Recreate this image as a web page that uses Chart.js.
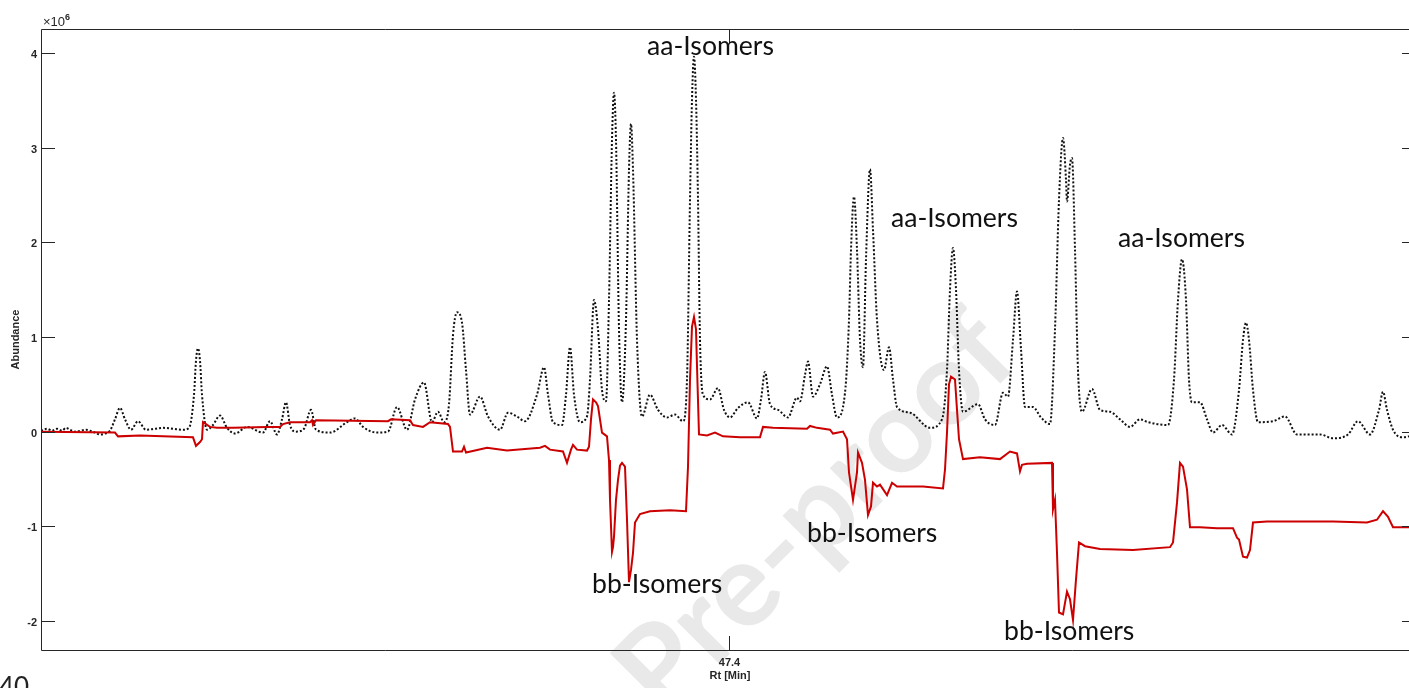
<!DOCTYPE html>
<html>
<head>
<meta charset="utf-8">
<title>Rt chromatogram</title>
<script src="https://cdn.jsdelivr.net/npm/chart.js@4.4.1/dist/chart.umd.min.js"></script>
<style>
  html, body { margin: 0; padding: 0; background: #fff; overflow: hidden; }
  #wrap { position: relative; width: 1424px; height: 688px; }
</style>
</head>
<body>
<div id="wrap"><canvas id="c" width="1424" height="688"></canvas></div>
<script>
// Total ion trace (dotted black): retention time [min] and abundance [x10^6]
const rtTotal = [40.52,40.58,40.63,40.68,40.73,40.77,40.81,40.86,40.97,41.01,41.06,41.11,41.16,41.21,41.26,41.31,41.36,41.42,41.49,41.57,41.66,41.74,41.84,41.94,42.00,42.05,42.07,42.09,42.11,42.13,42.18,42.24,42.31,42.38,42.46,42.58,42.74,42.81,42.88,42.93,42.97,43.01,43.07,43.15,43.22,43.27,43.41,43.58,43.66,43.74,43.88,43.99,44.08,44.18,44.26,44.35,44.43,44.49,44.55,44.60,44.64,44.68,44.73,44.77,44.81,44.91,44.99,45.11,45.19,45.28,45.36,45.48,45.55,45.59,45.64,45.73,45.77,45.81,45.85,45.91,45.98,46.01,46.05,46.09,46.13,46.17,46.20,46.23,46.25,46.27,46.30,46.33,46.37,46.40,46.42,46.44,46.48,46.53,46.61,46.69,46.78,46.86,46.94,46.98,47.01,47.03,47.05,47.07,47.09,47.11,47.14,47.21,47.29,47.35,47.41,47.49,47.59,47.68,47.72,47.76,47.81,47.89,47.99,48.08,48.11,48.16,48.19,48.24,48.31,48.38,48.43,48.48,48.56,48.60,48.62,48.65,48.68,48.71,48.74,48.77,48.81,48.84,48.88,48.95,49.00,49.04,49.08,49.21,49.41,49.53,49.58,49.61,49.64,49.67,49.70,49.74,49.89,49.96,50.06,50.14,50.19,50.24,50.28,50.32,50.36,50.44,50.52,50.61,50.66,50.70,50.74,50.77,50.78,50.81,50.83,50.86,50.89,50.93,51.03,51.11,51.21,51.31,51.41,51.51,51.59,51.79,51.85,51.89,51.93,51.97,52.00,52.03,52.11,52.18,52.24,52.33,52.43,52.50,52.54,52.57,52.60,52.64,52.69,52.84,52.96,53.08,53.31,53.44,53.59,53.69,53.81,53.90,53.94,53.98,54.04,54.13,54.20,54.27];
const abTotal = [0.01,0.03,0.01,0.03,0.01,0.04,0.02,0.00,0.02,0.01,-0.01,-0.03,-0.02,0.01,0.13,0.25,0.13,0.02,0.11,0.02,0.03,0.04,0.03,0.02,0.04,0.39,0.75,0.88,0.75,0.39,0.02,0.07,0.17,0.04,-0.02,0.05,-0.01,0.11,-0.03,0.13,0.31,0.07,0.00,0.03,0.23,0.02,-0.01,0.10,0.14,0.05,-0.01,0.00,0.26,0.02,0.34,0.52,0.10,0.21,0.10,0.29,1.02,1.26,1.15,0.65,0.18,0.37,0.16,0.02,0.20,0.16,0.11,0.39,0.68,0.39,0.10,0.07,0.39,0.89,0.39,0.10,0.16,0.55,1.39,1.08,0.44,0.32,1.39,3.08,3.58,3.08,1.08,0.31,1.18,2.77,3.25,2.77,0.97,0.16,0.39,0.23,0.15,0.18,0.11,0.55,2.45,3.51,3.96,3.51,2.45,0.97,0.39,0.34,0.46,0.23,0.15,0.25,0.31,0.14,0.34,0.63,0.29,0.23,0.15,0.36,0.32,0.60,0.74,0.37,0.50,0.69,0.39,0.15,0.41,1.18,1.92,2.48,1.92,0.97,0.68,1.82,2.77,2.13,1.18,0.65,0.89,0.55,0.26,0.20,0.04,0.13,0.65,1.50,1.94,1.50,0.65,0.21,0.29,0.13,0.07,0.41,0.37,0.97,1.48,0.87,0.26,0.26,0.15,0.08,1.08,2.45,3.10,2.66,2.43,2.82,2.89,1.92,0.65,0.21,0.45,0.23,0.21,0.13,0.05,0.13,0.10,0.07,0.55,1.39,1.82,1.39,0.55,0.31,0.31,0.13,-0.01,0.07,-0.03,0.44,0.97,1.15,0.97,0.44,0.10,0.11,0.16,-0.03,-0.03,-0.07,-0.03,0.11,-0.03,0.23,0.42,0.23,0.02,-0.06,-0.05,-0.03];

// Difference trace (solid red)
const rtDiff = [40.52,41.26,41.29,41.51,42.04,42.07,42.11,42.13,42.14,42.21,42.28,42.44,42.78,42.91,42.94,43.01,43.21,43.23,43.24,43.27,43.99,44.02,44.21,44.24,44.34,44.41,44.59,44.61,44.64,44.73,44.75,44.77,44.98,45.18,45.51,45.56,45.61,45.74,45.78,45.82,45.84,45.88,45.98,46.00,46.02,46.04,46.07,46.09,46.13,46.18,46.20,46.21,46.23,46.24,46.25,46.27,46.29,46.31,46.33,46.36,46.38,46.40,46.42,46.44,46.46,46.51,46.61,46.81,46.97,46.99,47.01,47.03,47.05,47.07,47.08,47.10,47.18,47.26,47.34,47.51,47.71,47.74,47.84,48.18,48.21,48.28,48.41,48.44,48.54,48.58,48.60,48.64,48.68,48.69,48.73,48.76,48.79,48.82,48.84,48.88,48.91,48.98,49.03,49.08,49.34,49.54,49.56,49.58,49.60,49.62,49.66,49.68,49.70,49.74,49.91,50.11,50.21,50.28,50.31,50.33,50.38,50.63,50.64,50.66,50.68,50.70,50.74,50.78,50.81,50.84,50.87,50.90,50.96,51.11,51.44,51.81,51.84,51.88,51.91,51.94,51.98,52.01,52.11,52.28,52.44,52.48,52.50,52.54,52.58,52.61,52.64,52.78,53.11,53.44,53.78,53.88,53.94,53.99,54.04,54.20,54.27];
const abDiff = [0.00,-0.01,-0.05,-0.04,-0.06,-0.15,-0.11,-0.08,0.10,0.05,0.04,0.04,0.05,0.05,0.08,0.10,0.10,0.12,0.07,0.12,0.11,0.13,0.12,0.07,0.05,0.10,0.08,0.05,-0.21,-0.21,-0.16,-0.22,-0.17,-0.20,-0.17,-0.15,-0.19,-0.21,-0.33,-0.19,-0.14,-0.19,-0.20,-0.16,0.13,0.34,0.31,0.27,-0.01,-0.05,-0.30,-0.72,-1.27,-1.22,-1.11,-0.72,-0.51,-0.36,-0.33,-0.37,-0.93,-1.59,-1.46,-1.28,-0.96,-0.87,-0.84,-0.83,-0.84,-0.37,0.55,1.11,1.21,1.08,0.69,-0.03,-0.04,-0.01,-0.05,-0.06,-0.06,0.05,0.04,0.03,0.06,0.04,0.02,-0.02,0.00,-0.08,-0.43,-0.72,-0.43,-0.22,-0.33,-0.51,-0.88,-0.79,-0.54,-0.58,-0.56,-0.67,-0.54,-0.58,-0.58,-0.60,-0.40,-0.01,0.50,0.58,0.55,0.23,-0.08,-0.29,-0.27,-0.29,-0.21,-0.23,-0.42,-0.35,-0.34,-0.33,-0.82,-0.72,-1.28,-1.91,-1.93,-1.69,-1.77,-1.99,-1.56,-1.17,-1.21,-1.24,-1.25,-1.22,-1.17,-0.75,-0.33,-0.37,-0.61,-1.01,-1.01,-1.02,-1.02,-1.12,-1.14,-1.32,-1.33,-1.25,-0.96,-0.95,-0.95,-0.95,-0.96,-0.93,-0.84,-0.90,-1.01,-1.01,-1.01];

// Axis ticks
const yTicks = [-2, -1, 0, 1, 2, 3, 4];
const xTicks = [47.4];
const xTickLabels = ['47.4'];

// Peak group annotations: text, left x [px], baseline y [px]
const noteText = ['aa-Isomers', 'aa-Isomers', 'aa-Isomers', 'bb-Isomers', 'bb-Isomers', 'bb-Isomers'];
const noteX = [647, 891, 1118, 592, 807, 1004];
const noteY = [55, 227, 247, 593, 542, 640];

const AXIS = '#262626';
const TICK_FONT = 'bold 11px "Liberation Sans", Arial, sans-serif';

const pts = (xs, ys) => xs.map((x, i) => ({ x: x, y: ys[i] }));

const watermark = {
  id: 'watermark',
  beforeDatasetsDraw(chart) {
    const ctx = chart.ctx;
    ctx.save();
    ctx.translate(816, 514);
    ctx.rotate(-Math.PI / 4);
    ctx.font = 'bold 118px Lato, "Open Sans", sans-serif';
    ctx.fillStyle = '#e9e9e9';
    ctx.textAlign = 'center';
    ctx.textBaseline = 'middle';
    ctx.fillText('Pre-proof', 0, 0);
    ctx.restore();
  }
};

const frame = {
  id: 'frame',
  afterDraw(chart) {
    const ctx = chart.ctx;
    const a = chart.chartArea;
    const xs = chart.scales.x, ys = chart.scales.y;
    ctx.save();
    ctx.strokeStyle = AXIS;
    ctx.lineWidth = 1;
    // box
    ctx.beginPath();
    ctx.moveTo(a.left + 0.5, a.top + 0.5);
    ctx.lineTo(a.right + 0.5, a.top + 0.5);
    ctx.lineTo(a.right + 0.5, a.bottom + 0.5);
    ctx.lineTo(a.left + 0.5, a.bottom + 0.5);
    ctx.closePath();
    ctx.stroke();
    // y ticks, inward on both sides
    ctx.fillStyle = AXIS;
    ctx.font = TICK_FONT;
    ctx.textAlign = 'right';
    ctx.textBaseline = 'middle';
    yTicks.forEach(v => {
      const y = Math.round(ys.getPixelForValue(v)) + 0.5;
      ctx.beginPath();
      ctx.moveTo(a.left, y); ctx.lineTo(a.left + 14, y);
      ctx.moveTo(a.right, y); ctx.lineTo(a.right - 14, y);
      ctx.stroke();
      ctx.fillText(String(v), a.left - 4, y + 1);
    });
    // x ticks, inward on top and bottom
    ctx.textAlign = 'center';
    xTicks.forEach((v, i) => {
      const x = Math.round(xs.getPixelForValue(v)) + 0.5;
      ctx.beginPath();
      ctx.moveTo(x, a.bottom); ctx.lineTo(x, a.bottom - 14);
      ctx.moveTo(x, a.top); ctx.lineTo(x, a.top + 14);
      ctx.stroke();
      ctx.fillText(xTickLabels[i], x, a.bottom + 13);
    });
    // axis titles
    ctx.fillText('Rt [Min]', xs.getPixelForValue(xTicks[0]) + 1, a.bottom + 26);
    ctx.save();
    ctx.translate(16, (a.top + a.bottom) / 2);
    ctx.rotate(-Math.PI / 2);
    ctx.fillText('Abundance', 0, 0);
    ctx.restore();
    // exponent label
    ctx.textAlign = 'left';
    ctx.textBaseline = 'alphabetic';
    ctx.font = '13px "Liberation Sans", Arial, sans-serif';
    ctx.fillText('\u00d710', a.left + 2, a.top - 3);
    const w = ctx.measureText('\u00d710').width;
    ctx.font = 'bold 9px "Liberation Sans", Arial, sans-serif';
    ctx.fillText('6', a.left + 2 + w, a.top - 9);
    // peak group annotations
    ctx.fillStyle = '#111';
    ctx.font = '25px Lato, "Open Sans", sans-serif';
    const k = 127 / ctx.measureText('aa-Isomers').width;
    ctx.font = (25 * k).toFixed(1) + 'px Lato, "Open Sans", sans-serif';
    noteText.forEach((t, i) => ctx.fillText(t, noteX[i], noteY[i]));
    // line number in the page margin
    ctx.fillStyle = '#222';
    ctx.font = '26px Lato, "Open Sans", sans-serif';
    ctx.fillText('40', -1, 696);
    ctx.restore();
  }
};

new Chart(document.getElementById('c'), {
  type: 'line',
  data: {
    datasets: [
      {
        label: 'Difference',
        data: pts(rtDiff, abDiff),
        borderColor: '#cc0000',
        borderWidth: 2,
        pointRadius: 0,
        tension: 0,
        fill: false
      },
      {
        label: 'Total',
        data: pts(rtTotal, abTotal),
        borderColor: '#111111',
        borderWidth: 2,
        borderDash: [2, 2],
        borderCapStyle: 'butt',
        pointRadius: 0,
        cubicInterpolationMode: 'monotone',
        fill: false
      }
    ]
  },
  options: {
    responsive: false,
    animation: false,
    devicePixelRatio: 1,
    layout: { padding: { left: 41, top: 29, right: 8, bottom: 38 } },
    plugins: { legend: { display: false }, tooltip: { enabled: false } },
    scales: {
      x: { type: 'linear', min: 40.52, max: 54.27, display: false },
      y: { type: 'linear', min: -2.306, max: 4.252, display: false }
    }
  },
  plugins: [watermark, frame]
});
</script>
</body>
</html>
